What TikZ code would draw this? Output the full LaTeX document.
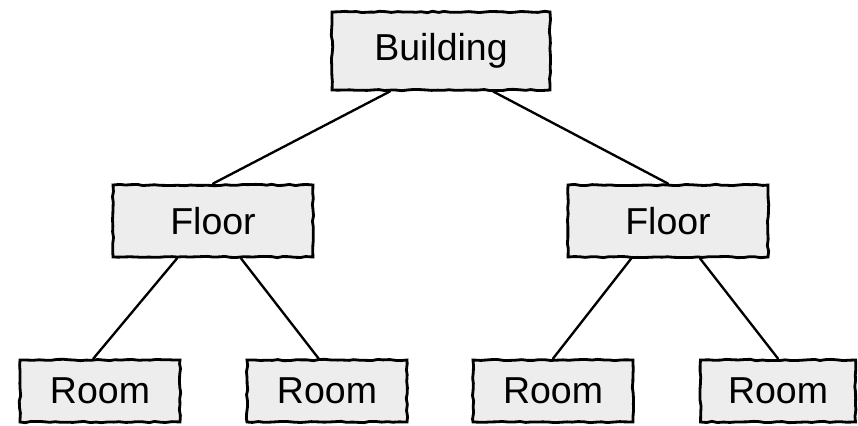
\documentclass[tikz,border=0pt]{standalone}
\usepackage{fontspec}
\setmainfont{Liberation Sans}
\usetikzlibrary{decorations.pathmorphing}

\begin{document}
\begin{tikzpicture}[
    x=0.03cm, y=-0.03cm,
    part/.style={rectangle, draw=black, line width=2.4pt, fill=black!7, font=\fontsize{32}{38}\selectfont,
      decorate, decoration={random steps, segment length=5pt, amplitude=0.6pt}},
    top/.style={part, minimum width=6.54cm, minimum height=2.34cm},
    mid/.style={part, minimum width=6cm, minimum height=2.16cm},
    leaf/.style={part, minimum width=4.8cm, minimum height=1.86cm},
    link/.style={line width=2pt, line cap=round}
  ]
    \useasboundingbox (0,0) rectangle (858,426);

    % Top layer - Building
    \node[top] (building) at (441,51) {Building};

    % Second layer - Floors
    \node[mid] (floorL) at (213,221) {Floor};
    \node[mid] (floorR) at (668,221) {Floor};

    % Bottom layer - Rooms
    \node[leaf] (room1) at (100,391) {Room};
    \node[leaf] (room2) at (327,391) {Room};
    \node[leaf] (room3) at (553,391) {Room};
    \node[leaf, minimum width=4.65cm] (room4) at (778,391) {Room};

    % Links
    \draw[link] ([xshift=-1.53cm]building.south) -- (floorL.north);
    \draw[link] ([xshift=1.56cm]building.south) -- (floorR.north);
    \draw[link] ([xshift=-1.08cm]floorL.south) -- ([xshift=-0.2cm]room1.north);
    \draw[link] ([xshift=0.84cm]floorL.south) -- ([xshift=-0.25cm]room2.north);
    \draw[link] ([xshift=-1.1cm]floorR.south) -- (room3.north);
    \draw[link] ([xshift=0.96cm]floorR.south) -- (room4.north);

  \end{tikzpicture}
\end{document}
